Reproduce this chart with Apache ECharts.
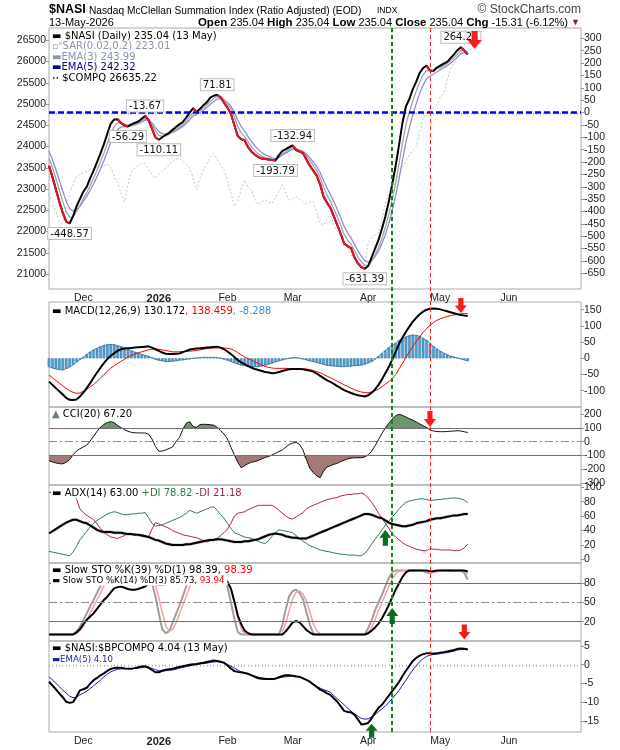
<!DOCTYPE html>
<html>
<head>
<meta charset="utf-8">
<title>$NASI</title>
<script src="https://cdn.jsdelivr.net/npm/echarts@6/dist/echarts.min.js"></script>
<style>
  html, body { margin: 0; padding: 0; background: #fff; }
  #chart { width: 620px; height: 750px; }
</style>
</head>
<body>
<div id="chart"></div>
<script>
// trading calendar for the x axis
const holidays = ['2025-11-27', '2025-12-25', '2026-01-01', '2026-01-19', '2026-02-16', '2026-04-03', '2026-05-25', '2026-06-19'];
const monthNames = ['Jan', 'Feb', 'Mar', 'Apr', 'May', 'Jun', 'Jul', 'Aug', 'Sep', 'Oct', 'Nov', 'Dec'];

function tradingDays(from, to) {
    const out = [];
    const d = new Date(from + 'T00:00:00Z');
    const end = new Date(to + 'T00:00:00Z');
    while (d <= end) {
        const s = d.toISOString().slice(0, 10);
        const wd = d.getUTCDay();
        if (wd !== 0 && wd !== 6 && holidays.indexOf(s) < 0) out.push(s);
        d.setUTCDate(d.getUTCDate() + 1);
    }
    return out;
}
const dates = tradingDays('2025-11-14', '2026-07-01');

// $NASI (right axis of the main panel)
const nasi = [
    -215, -260, -310, -360, -405, -440, -448.57, -420, -380, -350,
    -320, -300, -265, -235, -200, -165, -128, -85, -45, -28,
    -27, -42, -52, -56.29, -48, -42, -36, -25, -13.67, -30,
    -65, -100, -110.11, -100, -90, -82, -70, -58, -48, -38,
    -20, 0, 18, 2, 15, 30, 42, 60, 68, 71.81,
    62, 40, 20, -5, -50, -95, -108, -112, -140, -158,
    -170, -180, -186, -188, -190, -192, -193.79, -172, -155, -148,
    -140, -132.94, -152, -158, -164, -190, -215, -235, -255, -290,
    -340, -365, -385, -420, -455, -490, -530, -540, -548, -585,
    -610, -625, -631.39, -620, -585, -550, -515, -470, -420, -360,
    -290, -215, -130, -40, 25, 55, 95, 125, 160, 180,
    190, 170, 168, 182, 190, 198, 205, 220, 235, 252,
    264.25, 250.35, 235.04
];
const ema3 = [
    -185, -222, -266, -313, -359, -400, -424, -422, -401, -376,
    -348, -324, -295, -265, -233, -199, -164, -125, -85, -57,
    -42, -42, -47, -52, -50, -46, -41, -33, -24, -27,
    -46, -73, -92, -96, -93, -88, -79, -69, -59, -49,
    -35, -17, 0, 1, 8, 19, 31, 45, 57, 64,
    63, 52, 36, 15, -17, -56, -82, -97, -118, -138,
    -154, -167, -176, -182, -186, -189, -191, -181, -168, -158,
    -149, -141, -146, -152, -158, -174, -194, -214, -234, -262,
    -301, -333, -359, -389, -422, -456, -493, -516, -532, -558,
    -584, -604, -618, -619, -602, -576, -545, -508, -464, -412,
    -351, -283, -206, -123, -49, 3, 49, 87, 123, 152,
    171, 170, 169, 176, 183, 190, 198, 209, 222, 237,
    251, 251, 243.99
];
const ema5 = [
    -155, -190, -230, -273, -317, -358, -388, -399, -393, -379,
    -359, -339, -314, -288, -259, -228, -195, -158, -120, -89,
    -68, -59, -57, -57, -54, -50, -45, -38, -30, -30,
    -42, -61, -77, -85, -87, -85, -80, -73, -65, -56,
    -44, -29, -13, -8, 0, 10, 21, 34, 45, 54,
    57, 51, 41, 26, 1, -31, -57, -75, -97, -117,
    -135, -150, -162, -171, -177, -182, -186, -181, -172, -164,
    -156, -148, -149, -152, -156, -167, -183, -200, -218, -242,
    -275, -305, -332, -361, -392, -425, -460, -487, -507, -533,
    -559, -581, -598, -605, -598, -582, -560, -530, -493, -449,
    -396, -336, -267, -191, -119, -61, -9, 36, 77, 111,
    137, 148, 155, 164, 173, 181, 189, 199, 211, 225,
    238, 242, 242.32
];
// $COMPQ (left axis of the main panel)
const compq = [
    22900, 22700, 22450, 22250, 22200, 22550, 22900, 23100, 23300, 23350,
    23380, 23420, 23460, 23480, 23500, 23520, 23540, 23590, 23500, 23300,
    23140, 22900, 22700, 23100, 23400, 23500, 23550, 23600, 23600, 23450,
    23350, 23250, 23350, 23420, 23490, 23550, 23650, 23700, 23720, 23650,
    23580, 23500, 23250, 22980, 23250, 23450, 23600, 23750, 23840, 23700,
    23550, 23450, 23200, 22900, 22600, 22700, 23000, 23210, 23050, 22980,
    22750, 22620, 22700, 22740, 22690, 22660, 22800, 22950, 23090, 22900,
    22740, 22780, 22820, 22760, 22700, 22660, 22690, 22700, 22450, 22200,
    22150, 22300, 22390, 22150, 22000, 21880, 21750, 21600, 21450, 21400,
    21300, 21200, 21170, 21750, 21850, 21920, 21970, 22300, 22650, 22900,
    23050, 23200, 23350, 23500, 23650, 23800, 23900, 24000, 24350, 24650,
    24800, 24860, 24900, 25000, 25150, 25250, 25550, 25850, 25950, 26100,
    26200, 26350, 26635.22
];
// MACD(12,26,9)
const macd = [
    -72, -82, -92, -102, -112, -122, -128, -129, -127, -118,
    -106, -92, -76, -60, -44, -29, -15, -2, 8, 16,
    23, 28, 30, 31, 32, 33, 34, 35, 36, 37,
    33, 28, 23, 18, 14, 13, 13, 14, 15, 19,
    23, 27, 29, 30, 31, 32, 33, 34, 35, 36,
    33, 28, 21, 13, 4, -5, -13, -18, -24, -29,
    -33, -36, -39, -42, -44, -46, -45, -42, -39, -36,
    -34, -33, -33, -33, -34, -36, -38, -41, -47, -54,
    -61, -68, -73, -79, -86, -92, -98, -103, -107, -111,
    -114, -116, -118, -114, -106, -96, -82, -65, -46, -27,
    -4, 20, 45, 64, 82, 98, 113, 125, 136, 144,
    150, 153, 154, 153, 151, 148, 145, 142, 139, 136,
    134, 132, 130.172
];
const macdSignal = [
    -52, -60, -68, -77, -85, -93, -100, -105, -108, -107,
    -102, -95, -88, -81, -71, -61, -50, -40, -30, -23,
    -16, -9, -3, 4, 9, 13, 17, 20, 23, 26,
    28, 29, 28, 26, 24, 22, 20, 20, 20, 21,
    21, 22, 23, 24, 26, 28, 30, 31, 32, 32,
    32, 32, 31, 29, 24, 18, 11, 4, -1, -6,
    -11, -16, -21, -25, -28, -30, -31, -31, -31, -31,
    -32, -32, -32, -33, -33, -33, -35, -38, -41, -45,
    -50, -55, -60, -65, -71, -76, -82, -87, -92, -97,
    -101, -104, -106, -106, -104, -100, -95, -88, -80, -72,
    -63, -50, -33, -15, 3, 20, 37, 52, 66, 80,
    92, 102, 110, 117, 122, 126, 129, 132, 134, 136,
    137, 138, 138.459
];
const macdHist = [
    -26, -30, -33, -35, -36, -32, -27, -20, -12, -4,
    4, 12, 20, 26, 31, 36, 40, 42, 43, 42,
    39, 36, 33, 28, 23, 19, 16, 12, 9, 6,
    2, -3, -6, -8, -10, -10, -9, -8, -6, -5,
    -3, -2, 0, 1, 2, 3, 3, 3, 3, 2,
    0, -3, -6, -10, -14, -18, -21, -23, -24, -25,
    -26, -26, -24, -21, -18, -15, -11, -8, -5, -2,
    0, 2, 2, 0, -2, -5, -8, -10, -13, -16,
    -19, -22, -23, -24, -25, -26, -26, -25, -24, -23,
    -22, -21, -18, -14, -10, -3, 6, 15, 24, 33,
    40, 47, 55, 61, 66, 70, 72, 71, 68, 62,
    56, 46, 37, 29, 22, 16, 11, 7, 4, 1,
    -2, -5, -8.288
];
// CCI(20)
const cci = [
    -139, -148, -155, -160, -162, -150, -132, -95, -68, -52,
    -38, -25, 5, 40, 75, 105, 125, 140, 146, 138,
    118, 102, 87, 76, 68, 65, 64, 64, 63, 55,
    20, -35, -70, -68, -60, -50, -38, 0, 30, 90,
    135, 146, 110, 105, 125, 127, 126, 124, 120, 105,
    80, 55, 20, -40, -95, -150, -190, -175, -160, -150,
    -145, -137, -125, -115, -108, -96, -85, -72, -60, -40,
    -20, -10, -5, -20, -60, -130, -195, -225, -250, -263,
    -215, -185, -175, -165, -158, -145, -135, -125, -120, -118,
    -117, -117, -112, -95, -70, -30, 15, 60, 100, 135,
    165, 190, 200, 192, 180, 168, 158, 144, 130, 117,
    103, 86, 78, 74, 73, 73, 74, 76, 78, 80,
    78, 72, 67.2
];
// ADX(14)
const adx = [
    36, 39, 42, 45, 48, 51, 53, 55, 55, 53,
    51, 50, 47, 44, 41, 39, 38, 38, 38, 37,
    37, 37, 36, 35, 35, 34, 34, 33, 32, 31,
    29, 27, 26, 24, 22, 21, 20, 20, 20, 20,
    21, 21, 22, 23, 24, 25, 26, 27, 27, 28,
    28, 27, 26, 25, 24, 24, 24, 25, 25, 26,
    27, 28, 30, 32, 34, 35, 36, 35, 34, 32,
    31, 30, 30, 29, 29, 29, 31, 33, 35, 37,
    39, 41, 43, 45, 47, 49, 51, 53, 55, 57,
    59, 61, 63, 63, 62, 60, 58, 57, 54, 51,
    49, 48, 47, 46, 46, 47, 48, 50, 51, 52,
    53, 55, 56, 57, 57, 58, 59, 60, 61, 61,
    62, 63, 63
];
const plusDI = [
    11, 10, 9, 8, 7, 6, 5, 10, 18, 27,
    33, 39, 45, 50, 54, 57, 60, 63, 65, 66,
    65, 63, 62, 62, 63, 63, 64, 64, 65, 58,
    50, 46, 47, 48, 50, 52, 54, 56, 58, 61,
    64, 68, 66, 64, 66, 68, 70, 72, 73, 68,
    62, 57, 50, 43, 37, 35, 33, 31, 30, 29,
    27, 25, 23, 22, 26, 32, 37, 41, 40, 39,
    38, 37, 33, 29, 25, 22, 19, 17, 15, 13,
    12, 11, 10, 9, 8, 7, 7, 6, 6, 6,
    5, 5, 8, 14, 21, 28, 34, 41, 47, 53,
    59, 64, 70, 75, 79, 81, 82, 83, 84, 84,
    83, 82, 82, 83, 83, 84, 84, 85, 85, 85,
    84, 82, 78.82
];
const minusDI = [
    93, 93, 92, 92, 91, 90, 89, 87, 84, 70,
    65, 61, 58, 55, 49, 43, 37, 34, 31, 30,
    29, 31, 33, 36, 35, 35, 34, 34, 33, 31,
    42, 51, 49, 47, 45, 43, 40, 38, 36, 34,
    33, 32, 31, 30, 28, 26, 24, 26, 28, 29,
    33, 37, 42, 50, 60, 64, 65, 66, 69, 71,
    73, 75, 75, 75, 75, 75, 72, 68, 64, 60,
    57, 56, 59, 62, 65, 70, 73, 75, 77, 79,
    81, 83, 84, 85, 86, 88, 89, 90, 90, 91,
    91, 92, 90, 85, 79, 72, 64, 57, 50, 43,
    36, 31, 27, 23, 20, 18, 16, 14, 13, 12,
    12, 15, 14, 14, 13, 13, 13, 13, 12, 12,
    13, 16, 21.18
];
// Slow STO %K(39) %D(1)
const stoK39 = [
    0, 0, 0, 0, 0, 0, 0, 0, 3, 8,
    16, 23, 28, 33, 40, 47, 54, 59, 66, 72,
    74, 75, 73, 71, 70, 70, 71, 73, 75, 80,
    84, 79, 78, 78, 79, 83, 87, 91, 94, 97,
    99, 100, 98, 97, 98, 99, 100, 100, 100, 99,
    96, 90, 82, 72, 52, 30, 16, 6, 2, 0,
    0, 0, 0, 0, 0, 0, 0, 0, 0, 5,
    12, 19, 21, 19, 13, 7, 3, 0, 0, 0,
    0, 0, 0, 0, 0, 0, 0, 0, 0, 0,
    0, 0, 0, 2, 6, 11, 17, 25, 35, 46,
    58, 70, 80, 90, 97, 100, 100, 100, 100, 100,
    100, 99, 99, 100, 100, 100, 100, 100, 100, 100,
    100, 100, 98.39
];
// Slow STO %K(14) %D(3)
const stoK14 = [
    0, 0, 0, 0, 0, 0, 0, 0, 5, 12,
    22, 33, 44, 54, 65, 76, 86, 94, 98, 100,
    100, 98, 96, 98, 100, 100, 99, 97, 95, 92,
    80, 60, 33, 8, 2, 5, 18, 32, 45, 60,
    75, 88, 95, 92, 96, 99, 100, 100, 98, 96,
    92, 85, 75, 50, 25, 4, 0, 0, 0, 0,
    0, 0, 0, 0, 0, 0, 0, 0, 15, 40,
    60, 68, 70, 65, 55, 35, 15, 2, 0, 0,
    0, 0, 0, 0, 0, 0, 0, 0, 0, 0,
    0, 0, 0, 10, 22, 38, 50, 62, 75, 88,
    97, 100, 100, 100, 100, 100, 100, 100, 100, 99,
    97, 96, 98, 99, 100, 100, 100, 100, 99, 100,
    100, 96, 85.73
];
const stoD3 = [
    0, 0, 0, 0, 0, 0, 0, 0, 2, 6,
    13, 22, 33, 44, 54, 65, 76, 85, 93, 97,
    99, 99, 98, 97, 98, 100, 100, 99, 97, 95,
    89, 77, 58, 34, 14, 5, 8, 18, 32, 46,
    60, 74, 86, 92, 94, 96, 98, 100, 99, 98,
    95, 91, 84, 70, 50, 26, 10, 1, 0, 0,
    0, 0, 0, 0, 0, 0, 0, 0, 5, 18,
    38, 56, 66, 68, 63, 52, 35, 17, 6, 1,
    0, 0, 0, 0, 0, 0, 0, 0, 0, 0,
    0, 0, 0, 3, 11, 23, 37, 50, 62, 75,
    87, 95, 99, 100, 100, 100, 100, 100, 100, 100,
    99, 97, 97, 98, 99, 100, 100, 100, 100, 100,
    100, 99, 93.94
];
// $NASI:$BPCOMPQ
const ratio = [
    -4.5, -5.5, -6.5, -7.6, -8.6, -9.8, -10.1, -9.9, -8.5, -6.8,
    -6.5, -6.1, -5.0, -4.1, -3.5, -2.8, -2.3, -1.6, -1.1, -0.9,
    -0.8, -0.8, -1.0, -1.1, -1.1, -0.9, -0.7, -0.5, -0.4, -0.8,
    -1.4, -2.0, -2.0, -1.6, -1.3, -1.2, -1.1, -0.8, -0.6, -0.4,
    -0.2, 0.0, 0.1, 0.2, 0.4, 0.5, 0.7, 0.9, 1.1, 1.0,
    0.8, 0.5, -0.2, -1.0, -1.7, -1.9, -2.0, -2.2, -2.4, -2.8,
    -3.2, -3.6, -3.7, -3.8, -3.8, -3.8, -3.7, -3.3, -3.0, -2.8,
    -2.8, -2.9, -3.1, -3.2, -3.6, -4.0, -4.5, -5.2, -5.9, -6.6,
    -7.0, -7.6, -8.0, -8.9, -9.8, -11.0, -12.2, -12.5, -12.6, -13.2,
    -14.5, -15.8, -15.7, -15.4, -14.2, -12.7, -11.4, -10.6, -9.4, -8.2,
    -7.0, -5.8, -4.5, -3.0, -1.6, -0.3, 1.0, 1.8, 2.4, 2.8,
    3.0, 3.0, 2.9, 3.0, 3.2, 3.3, 3.5, 3.7, 3.9, 4.2,
    4.3, 4.2, 4.04
];
const ratioEma5 = [
    -3.2, -4.0, -4.9, -5.8, -6.7, -7.5, -8.3, -8.7, -8.6, -8.0,
    -7.5, -7.0, -6.3, -5.6, -4.8, -4.1, -3.2, -2.5, -1.9, -1.5,
    -1.2, -1.1, -1.0, -1.0, -1.0, -1.0, -0.9, -0.8, -0.6, -0.7,
    -1.0, -1.3, -1.6, -1.7, -1.6, -1.5, -1.4, -1.2, -0.9, -0.7,
    -0.5, -0.3, -0.1, 0.0, 0.2, 0.3, 0.4, 0.6, 0.7, 0.8,
    0.7, 0.5, 0.1, -0.4, -0.9, -1.4, -1.9, -2.2, -2.4, -2.7,
    -3.0, -3.3, -3.5, -3.6, -3.7, -3.7, -3.6, -3.5, -3.3, -3.2,
    -3.1, -3.0, -3.0, -3.2, -3.5, -4.0, -4.6, -5.2, -5.7, -6.2,
    -6.6, -6.9, -7.3, -8.2, -9.0, -9.8, -10.6, -11.5, -12.3, -13.0,
    -13.6, -14.2, -14.4, -14.3, -13.8, -13.2, -12.4, -11.7, -10.9, -10.0,
    -9.0, -7.9, -6.8, -5.4, -4.1, -2.7, -1.4, -0.3, 0.8, 1.6,
    2.2, 2.5, 2.7, 2.8, 2.9, 3.1, 3.2, 3.4, 3.6, 3.9,
    4.0, 4.1, 4.10
];

// tick labels
const nasiTicks = [300, 250, 200, 150, 100, 50, 0, -50, -100, -150, -200, -250, -300, -350, -400, -450, -500, -550, -600, -650];
const compqTicks = [26500, 26000, 25500, 25000, 24500, 24000, 23500, 23000, 22500, 22000, 21500, 21000];
const macdTicks = [150, 100, 50, 0, -50, -100];
const cciTicks = [200, 100, 0, -100, -200, -300];
const adxTicks = [100, 80, 60, 40, 20, 0];
const stoTicks = [80, 50, 20];
const ratioTicks = [5, 0, -5, -10, -15];

// labelled turning points on $NASI: [day index, label side]
const callouts = [[6, 'bottom'], [23, 'bottom'], [28, 'top'], [32, 'bottom'], [49, 'top'], [66, 'bottom'], [71, 'top'], [92, 'bottom'], [120, 'top']];
const greenDay = 100;   // 13 Apr
const redDay = 111;     // 28 Apr

const FONT = '"DejaVu Sans", Verdana, sans-serif';
const AXF = '"Liberation Sans", Arial, sans-serif';
const DOWN = 'path://M4,0L10,0L10,8L14,8L7,16L0,8L4,8Z';
const UP = 'path://M7,0L14,8L10,8L10,16L4,16L4,8L0,8Z';

// NASI falling runs in red, alternate series so separate runs never join
const redA = nasi.map(() => null), redB = nasi.map(() => null);
let run = -1, wasFalling = false;
for (let i = 1; i < nasi.length; i++) {
    const falling = nasi[i] < nasi[i - 1];
    if (falling) {
        if (!wasFalling) run++;
        const arr = run % 2 ? redB : redA;
        arr[i - 1] = nasi[i - 1];
        arr[i] = nasi[i];
    }
    wasFalling = falling;
}
// CCI shading beyond +/-100
const cciUp = cci.map(v => Math.max(v - 100, 0));
const cciDn = cci.map(v => Math.min(v + 100, 0));

const firstOfMonth = dates.map((d, i) => i > 0 && i < dates.length - 1 && d.slice(5, 7) !== dates[i - 1].slice(5, 7));

const panels = [
    {top: 28, height: 261},   // main
    {top: 302, height: 105},  // MACD
    {top: 407, height: 78},   // CCI
    {top: 485, height: 78},   // ADX
    {top: 563, height: 78},   // STO
    {top: 641, height: 91}    // ratio
];
const grids = panels.map(p => ({
    left: 49, right: 39, top: p.top, height: p.height,
    show: true, borderColor: '#a9a9a9', borderWidth: 1, backgroundColor: 'transparent'
}));
grids.push({left: 49, right: 39, top: 28, height: 704, show: false});

function xAxis(gi, labels) {
    return {
        type: 'category', gridIndex: gi, data: dates, boundaryGap: false,
        axisLine: {show: false},
        splitLine: {show: false},
        axisTick: labels ? {show: true, interval: 0, length: 2, lineStyle: {color: '#b5b5b5'}} : {show: false},
        axisLabel: labels ? {
            show: true, margin: 4, fontSize: 10.5, fontFamily: AXF, color: '#222',
            interval: (idx) => firstOfMonth[idx],
            formatter: (val) => {
                const m = +val.slice(5, 7) - 1;
                return m === 0 ? '{b|' + val.slice(0, 4) + '}' : monthNames[m];
            },
            rich: {b: {fontWeight: 'bold', fontSize: 11, fontFamily: AXF, color: '#222'}}
        } : {show: false}
    };
}

function yAxis(gi, min, max, ticks, pos) {
    return {
        type: 'value', gridIndex: gi, position: pos || 'right', min: min, max: max,
        splitLine: {show: false}, axisLine: {show: false},
        axisTick: {show: true, customValues: ticks, length: 3, lineStyle: {color: '#999'}},
        axisLabel: {customValues: ticks, fontSize: 10.5, fontFamily: AXF, color: '#222', margin: 3,
            formatter: (v) => String(v)}
    };
}

function line(name, data, xi, yi, color, width, extra) {
    return Object.assign({
        name: name, type: 'line', data: data, xAxisIndex: xi, yAxisIndex: yi,
        symbol: 'none', showSymbol: false, smooth: false, connectNulls: false,
        lineStyle: {color: color, width: width}, itemStyle: {color: color}, silent: true
    }, extra || {});
}

function hLines(vals, color, type) {
    return vals.map(v => ({yAxis: v, lineStyle: {color: color, width: 1.2, type: type}}));
}

function arrow(coord, down, size) {
    return {
        coord: coord, symbol: down ? DOWN : UP, symbolSize: size,
        itemStyle: {color: down ? '#ff1a1a' : '#0c6b1f'}, label: {show: false}
    };
}

const series = [
    // main panel
    line('$COMPQ', compq, 0, 1, '#c8c8c8', 1, {lineStyle: {color: '#c4c4c4', width: 1, type: [2, 2]}}),
    line('EMA(5)', ema5, 0, 0, '#8c8ed2', 1.3),
    line('EMA(3)', ema3, 0, 0, '#a3a3a3', 1.3),
    line('$NASI', nasi, 0, 0, '#000', 2, {
        z: 4,
        markLine: {
            silent: true, symbol: 'none', label: {show: false}, animation: false,
            data: [{yAxis: 0, lineStyle: {color: '#0000ff', width: 2.5, type: [6, 3]}}]
        },
        markPoint: {
            silent: true, z: 5,
            data: callouts.map(c => ({
                coord: [c[0], nasi[c[0]]], symbol: 'circle', symbolSize: 1,
                itemStyle: {color: 'rgba(0,0,0,0)'},
                label: {
                    show: true, position: c[1], distance: 4,
                    formatter: nasi[c[0]].toFixed(2),
                    fontSize: 10, fontFamily: FONT, color: '#111',
                    backgroundColor: '#fff', borderColor: '#bdbdbd', borderWidth: 1, padding: [1, 2, 0, 2]
                }
            }))
        }
    }),
    line('down A', redA, 0, 0, '#e8102a', 2, {z: 5}),
    line('down B', redB, 0, 0, '#e8102a', 2, {
        z: 6,
        markPoint: {silent: true, z: 12, data: [arrow([124, 293], true, [14, 18])]}
    }),

    // MACD
    {
        name: 'hist', type: 'bar', data: macdHist, xAxisIndex: 1, yAxisIndex: 2, barWidth: 2.6,
        itemStyle: {color: '#4f9fd0', borderColor: '#23668f', borderWidth: 0.4}, silent: true
    },
    line('hist edge', macdHist, 1, 2, '#2b6f99', 0.8),
    line('signal', macdSignal, 1, 2, '#ff0000', 1),
    line('MACD', macd, 1, 2, '#000', 2, {
        markPoint: {silent: true, z: 12, data: [arrow([120, 163], true, [12, 15])]}
    }),

    // CCI
    line('cci base up', cci.map(() => 100), 2, 3, 'rgba(0,0,0,0)', 0, {stack: 'up'}),
    line('cci up', cciUp, 2, 3, 'rgba(0,0,0,0)', 0, {stack: 'up', areaStyle: {color: '#6f956f', opacity: 1}}),
    line('cci base dn', cci.map(() => -100), 2, 3, 'rgba(0,0,0,0)', 0, {stack: 'dn'}),
    line('cci dn', cciDn, 2, 3, 'rgba(0,0,0,0)', 0, {stack: 'dn', areaStyle: {color: '#a47a77', opacity: 1}}),
    line('CCI', cci, 2, 3, '#111', 1, {
        z: 4,
        markLine: {
            silent: true, symbol: 'none', label: {show: false}, animation: false,
            data: hLines([100, -100], '#707070', 'solid').concat(hLines([0], '#8a8a8a', [8, 3, 2, 3]))
        },
        markPoint: {silent: true, z: 12, data: [arrow([111, 166], true, [12, 16])]}
    }),

    // ADX
    line('-DI', minusDI, 3, 4, '#b3234f', 1),
    line('+DI', plusDI, 3, 4, '#2c7d4e', 1),
    line('ADX shadow', adx, 3, 4, '#bdbdbd', 2.2, {z: 2, lineStyle: {color: '#c0c0c0', width: 3}}),
    line('ADX', adx, 3, 4, '#000', 2, {
        markPoint: {silent: true, z: 12, data: [arrow([98, 30], false, [12, 16])]}
    }),

    // Slow STO
    line('%K(14)', stoK14, 4, 5, '#9e9e9e', 2),
    line('%D(3)', stoD3, 4, 5, '#f2a2a2', 1.5),
    line('%K(39)', stoK39, 4, 5, '#000', 2, {
        markLine: {
            silent: true, symbol: 'none', label: {show: false}, animation: false,
            data: hLines([80, 20], '#707070', 'solid').concat(hLines([50], '#8a8a8a', [8, 3, 2, 3]))
        },
        markPoint: {silent: true, z: 12, data: [arrow([121, 4], true, [12, 15]), arrow([100, 29], false, [12, 16])]}
    }),

    // $NASI:$BPCOMPQ
    line('ratio EMA(5)', ratioEma5, 5, 6, '#1c1ca8', 1),
    line('ratio', ratio, 5, 6, '#000', 2, {
        markPoint: {silent: true, z: 12, data: [arrow([94, -17.5], false, [12, 14])]}
    }),

    // signal day lines across all panels
    line('marks', dates.map(() => null), 6, 7, '#000', 1, {
        z: 6,
        markLine: {
            silent: true, symbol: 'none', label: {show: false}, animation: false,
            data: [
                {xAxis: dates[greenDay], lineStyle: {color: '#0b8a12', width: 2, type: [4, 3]}},
                {xAxis: dates[redDay], lineStyle: {color: '#ff2020', width: 1, type: [4, 3]}}
            ]
        }
    })
];

function txt(x, y, text, size, rich, opts) {
    return Object.assign({
        type: 'text', x: x, y: y, z: 100, silent: true,
        style: Object.assign({
            text: text, fill: '#000', font: size + 'px ' + FONT, rich: rich || {},
            verticalAlign: 'middle', align: 'left'
        }, opts || {})
    });
}
const bg = {backgroundColor: '#fff', padding: [1, 3, 0, 1]};
const graphics = [
    // header
    txt(49, 10, '$NASI', 12, {}, {font: 'bold 12.5px ' + AXF}),
    txt(89, 11, 'Nasdaq McClellan Summation Index (Ratio Adjusted) (EOD)', 10.2, {}, {font: '10.2px ' + AXF}),
    txt(377, 11, 'INDX', 8.5, {}, {font: '8.5px ' + AXF}),
    txt(581, 10, '\u00A9 StockCharts.com', 12, {}, {font: '12px ' + AXF, fill: '#444', align: 'right'}),
    txt(49, 23, '13-May-2026', 11, {}, {font: '11px ' + AXF}),
    txt(580, 23, '{b|Open} 235.04 {b|High} 235.04 {b|Low} 235.04 {b|Close} 235.04 {b|Chg} -15.31 (-6.12%) {t|\u25BC}', 11,
        {b: {font: 'bold 11.5px ' + AXF}, t: {font: '9px ' + AXF, fill: '#8b1a3a'}},
        {font: '11px ' + AXF, align: 'right'}),

    // main legend
    txt(51, 35.5, '\u25AC $NASI (Daily) 235.04 (13 May)', 10, {}, bg),
    txt(51, 46, '{s|\u25AB\u00B0}SAR(0.02,0.2) 223.01', 10, {s: {fill: '#8a94a6', font: '9px ' + FONT}}, Object.assign({fill: '#8a94a6'}, bg)),
    txt(51, 56.5, '\u25ACEMA(3) 243.99', 10, {}, Object.assign({fill: '#8a94a6'}, bg)),
    txt(51, 67, '\u25ACEMA(5) 242.32', 10, {}, Object.assign({fill: '#00008b'}, bg)),
    txt(51, 77.5, '{d|\u2022\u2022} $COMPQ 26635.22', 10, {d: {font: '6px ' + FONT}}, bg),

    // MACD legend
    txt(51, 311, '\u25AC MACD(12,26,9) 130.172{r|, 138.459}{b|, -8.288}', 10,
        {r: {fill: '#ff0000'}, b: {fill: '#3a8fc6'}}, bg),
    // CCI legend
    txt(51, 414, '{g|\u25B2} CCI(20) 67.20', 10, {g: {fill: '#5d875d'}}, bg),
    // ADX legend
    txt(51, 493, '\u25AC ADX(14) 63.00 {g|+DI 78.82} {r|-DI 21.18}', 10,
        {g: {fill: '#2c7d4e'}, r: {fill: '#a3204a'}}, bg),
    // STO legends
    txt(51, 570, '\u25AC Slow STO %K(39) %D(1) 98.39, {r|98.39}', 10, {r: {fill: '#ff0000'}}, bg),
    txt(51, 580.5, '\u25AC Slow STO %K(14) %D(3) 85.73, {r|93.94}', 8.6, {r: {fill: '#ff0000'}}, bg),
    // ratio legends
    txt(51, 648, '\u25AC $NASI:$BPCOMPQ 4.04 (13 May)', 10, {}, bg),
    txt(51, 659, '\u25ACEMA(5) 4.10', 8.6, {}, Object.assign({fill: '#1c1ca8'}, bg))
];

const chart = echarts.init(document.getElementById('chart'), null, {renderer: 'canvas'});
chart.setOption({
    animation: false,
    backgroundColor: '#fff',
    grid: grids,
    xAxis: [xAxis(0, true), xAxis(1, false), xAxis(2, false), xAxis(3, false), xAxis(4, false), xAxis(5, true), xAxis(6, false)],
    yAxis: [
        yAxis(0, -713.4, 341.9, nasiTicks),
        yAxis(0, 20647, 26789.6, compqTicks, 'left'),
        yAxis(1, -150.3, 173.8, macdTicks),
        yAxis(2, -316, 253, cciTicks),
        yAxis(3, -5.1, 103.2, adxTicks),
        yAxis(4, -10.2, 111.7, stoTicks),
        yAxis(5, -17.8, 6.27, ratioTicks),
        {type: 'value', gridIndex: 6, min: 0, max: 1, show: false}
    ],
    series: series,
    graphic: graphics
});
window.addEventListener('resize', function () { chart.resize(); }, false);
</script>
</body>
</html>
